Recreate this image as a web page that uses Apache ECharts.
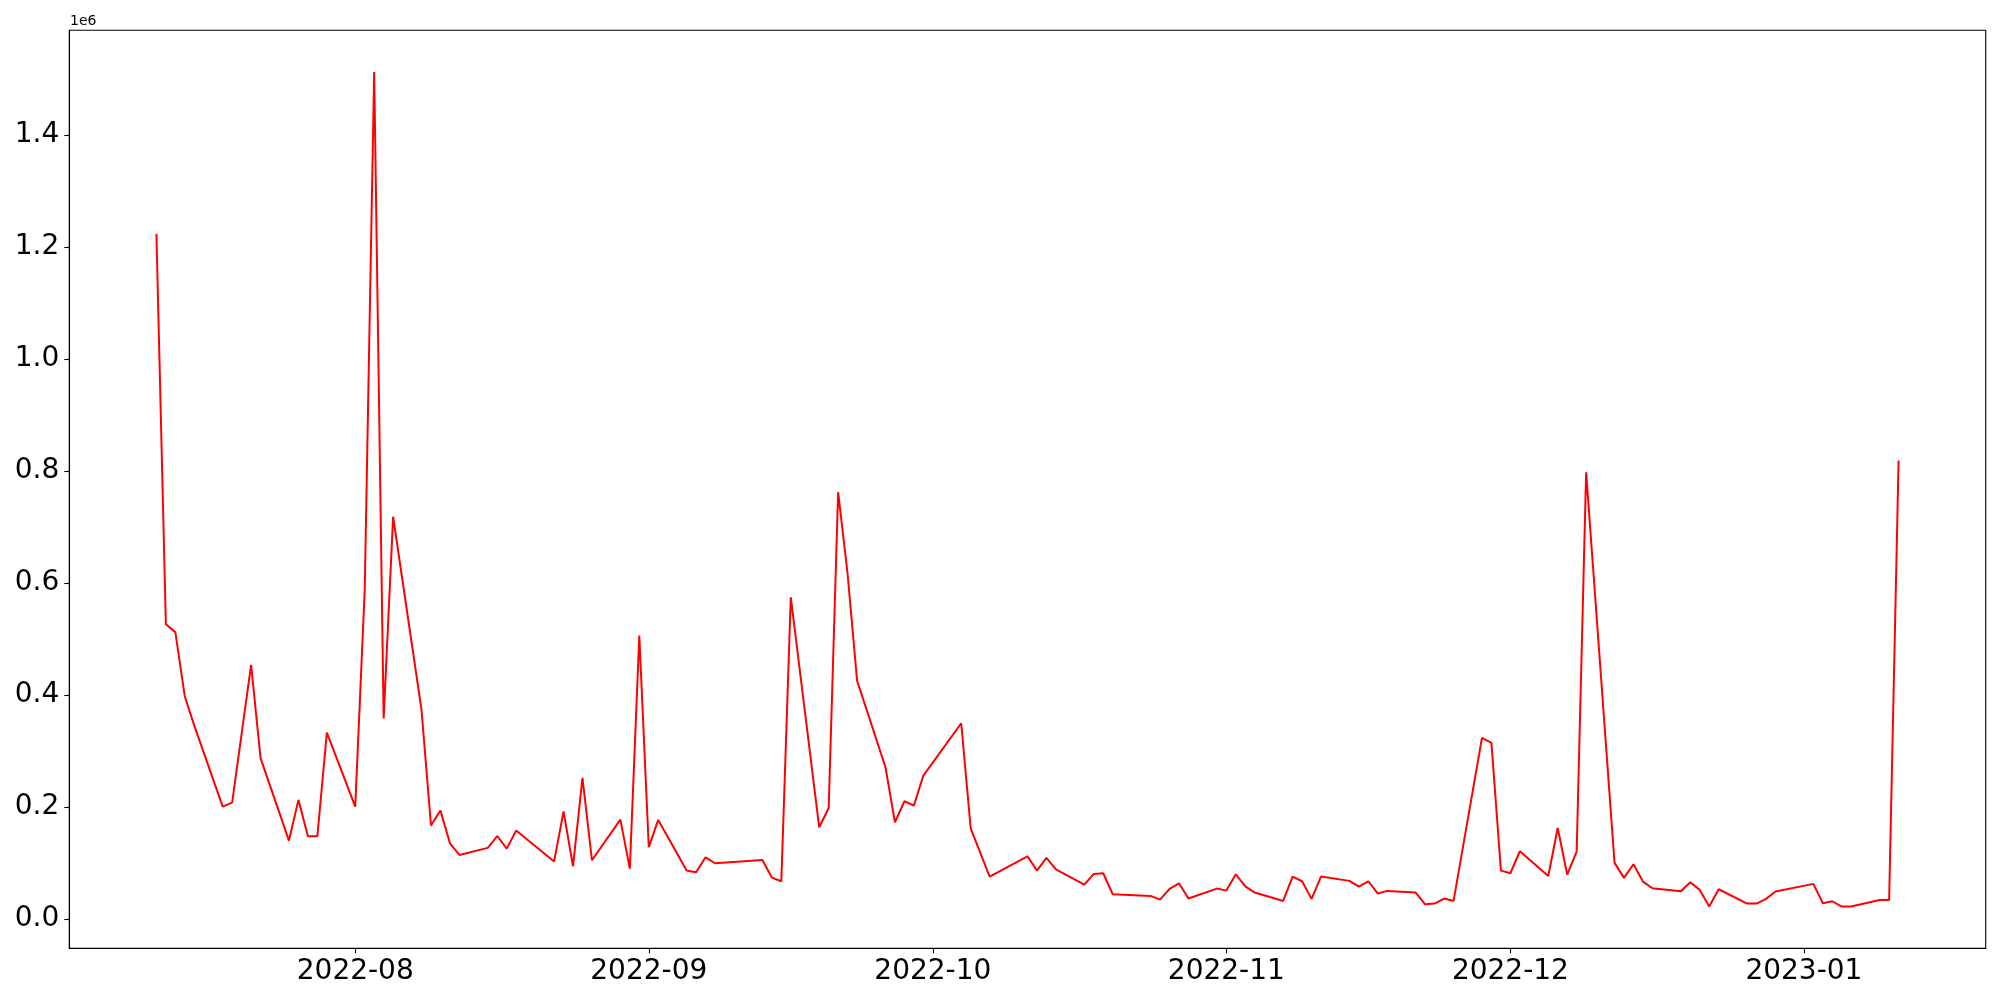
<!DOCTYPE html>
<html>
<head>
<meta charset="utf-8">
<script src="https://cdn.jsdelivr.net/npm/echarts@6/dist/echarts.min.js"></script>
<style>
html,body{margin:0;padding:0;background:#fff;}
#chart{width:2000px;height:1000px;}
</style>
</head>
<body>
<div id="chart"></div>
<script>
// ---- data ----
const dates = [
'2022-07-11','2022-07-12','2022-07-13','2022-07-14','2022-07-15','2022-07-18','2022-07-19','2022-07-21','2022-07-22',
'2022-07-25','2022-07-26','2022-07-27','2022-07-28','2022-07-29',
'2022-08-01','2022-08-02','2022-08-03','2022-08-04','2022-08-05','2022-08-08','2022-08-09','2022-08-10','2022-08-11','2022-08-12',
'2022-08-15','2022-08-16','2022-08-17','2022-08-18','2022-08-22','2022-08-23','2022-08-24','2022-08-25','2022-08-26',
'2022-08-29','2022-08-30','2022-08-31','2022-09-01','2022-09-02','2022-09-05','2022-09-06','2022-09-07','2022-09-08',
'2022-09-13','2022-09-14','2022-09-15','2022-09-16','2022-09-19','2022-09-20','2022-09-21','2022-09-22','2022-09-23',
'2022-09-26','2022-09-27','2022-09-28','2022-09-29','2022-09-30','2022-10-04','2022-10-05','2022-10-07',
'2022-10-11','2022-10-12','2022-10-13','2022-10-14','2022-10-17','2022-10-18','2022-10-19','2022-10-20',
'2022-10-24','2022-10-25','2022-10-26','2022-10-27','2022-10-28','2022-10-31','2022-11-01','2022-11-02','2022-11-03','2022-11-04',
'2022-11-07','2022-11-08','2022-11-09','2022-11-10','2022-11-11','2022-11-14','2022-11-15','2022-11-16','2022-11-17','2022-11-18',
'2022-11-21','2022-11-22','2022-11-23','2022-11-24','2022-11-25','2022-11-28','2022-11-29','2022-11-30','2022-12-01','2022-12-02',
'2022-12-05','2022-12-06','2022-12-07','2022-12-08','2022-12-09','2022-12-12','2022-12-13','2022-12-14','2022-12-15','2022-12-16',
'2022-12-19','2022-12-20','2022-12-21','2022-12-22','2022-12-23','2022-12-26','2022-12-27','2022-12-28','2022-12-29',
'2023-01-02','2023-01-03','2023-01-04','2023-01-05','2023-01-06','2023-01-09','2023-01-10','2023-01-11'
];
const values = [
1223000,526000,512000,397000,345000,200500,207700,453500,287000,
139800,212500,147500,147500,332700,
200500,587000,1512000,358000,718000,373000,166600,193400,135000,114200,
126800,148000,125500,158000,102300,192000,94000,251700,104700,
177300,89800,506000,128000,176700,86300,83300,110000,99300,
105000,73800,67200,574000,163600,197500,762000,616000,425500,
270700,172500,210000,202300,255900,349300,161800,75500,
111800,86200,108900,88600,61200,80300,81500,44000,
41000,34500,53500,63600,36300,54100,50500,79700,58200,47000,
32100,75500,67200,35700,75500,67900,57700,67200,45200,50000,
47000,26100,27300,36300,32100,323200,314300,86200,81500,120800,
76700,162400,79100,120200,797500,100000,73200,97500,66600,54700,
49300,65400,51800,22000,52900,27300,27300,35700,48800,
62500,27900,31500,22000,22000,33900,33900,818400
];
const xTickDates = ['2022-08-01','2022-09-01','2022-10-01','2022-11-01','2022-12-01','2023-01-01'];
const xTickLabels = ['2022-08','2022-09','2022-10','2022-11','2022-12','2023-01'];
const yTickValues = [0,200000,400000,600000,800000,1000000,1200000,1400000];
const yTickLabels = ['0.0','0.2','0.4','0.6','0.8','1.0','1.2','1.4'];
const offsetText = '1e6';

// ---- helpers ----
const DAY = 86400000;
function toDay(s){ const p = s.split('-').map(Number); return Date.UTC(p[0], p[1]-1, p[2]) / DAY; }
const days = dates.map(toDay);
const seriesData = days.map((t,i)=>[t, values[i]]);
const xTicks = xTickDates.map(toDay);

// matplotlib-like 5% margins
const tMin = Math.min(...days), tMax = Math.max(...days);
const tPad = (tMax - tMin) * 0.05;
const vMin = Math.min(...values), vMax = Math.max(...values);
const vPad = (vMax - vMin) * 0.05;

const FONT = 'DejaVu Sans';
const chart = echarts.init(document.getElementById('chart'), null, {renderer:'canvas'});
chart.setOption({
  animation: false,
  backgroundColor: '#ffffff',
  grid: { left: 69.3, right: 14.3, top: 30.3, bottom: 51.7, show: true, borderColor: '#000', borderWidth: 1.1, backgroundColor: 'transparent' },
  graphic: [{ type: 'text', left: 70, top: 14, style: { text: offsetText, fontSize: 14, fontFamily: FONT, fill: '#000' } }],
  xAxis: {
    type: 'value',
    min: tMin - tPad, max: tMax + tPad,
    axisLine: { show: true, onZero: false, lineStyle: { color: '#000', width: 1.1 } },
    axisTick: { show: true, customValues: xTicks, length: 5, lineStyle: { color: '#000', width: 1.1 } },
    axisLabel: {
      customValues: xTicks, fontSize: 28, fontFamily: FONT, color: '#000', margin: 9,
      formatter: function(v){ const i = xTicks.indexOf(v); return i >= 0 ? xTickLabels[i] : ''; }
    },
    splitLine: { show: false }
  },
  yAxis: {
    type: 'value',
    min: vMin - vPad, max: vMax + vPad,
    axisLine: { show: true, onZero: false, lineStyle: { color: '#000', width: 1.1 } },
    axisTick: { show: true, customValues: yTickValues, length: 5, lineStyle: { color: '#000', width: 1.1 } },
    axisLabel: {
      customValues: yTickValues, fontSize: 28, fontFamily: FONT, color: '#000', margin: 10,
      formatter: function(v){ const i = yTickValues.indexOf(v); return i >= 0 ? yTickLabels[i] : ''; }
    },
    splitLine: { show: false }
  },
  series: [{
    type: 'line',
    data: seriesData,
    showSymbol: false,
    symbol: 'none',
    lineStyle: { color: '#ff0000', width: 2 },
    itemStyle: { color: '#ff0000' }
  }]
});
</script>
</body>
</html>
